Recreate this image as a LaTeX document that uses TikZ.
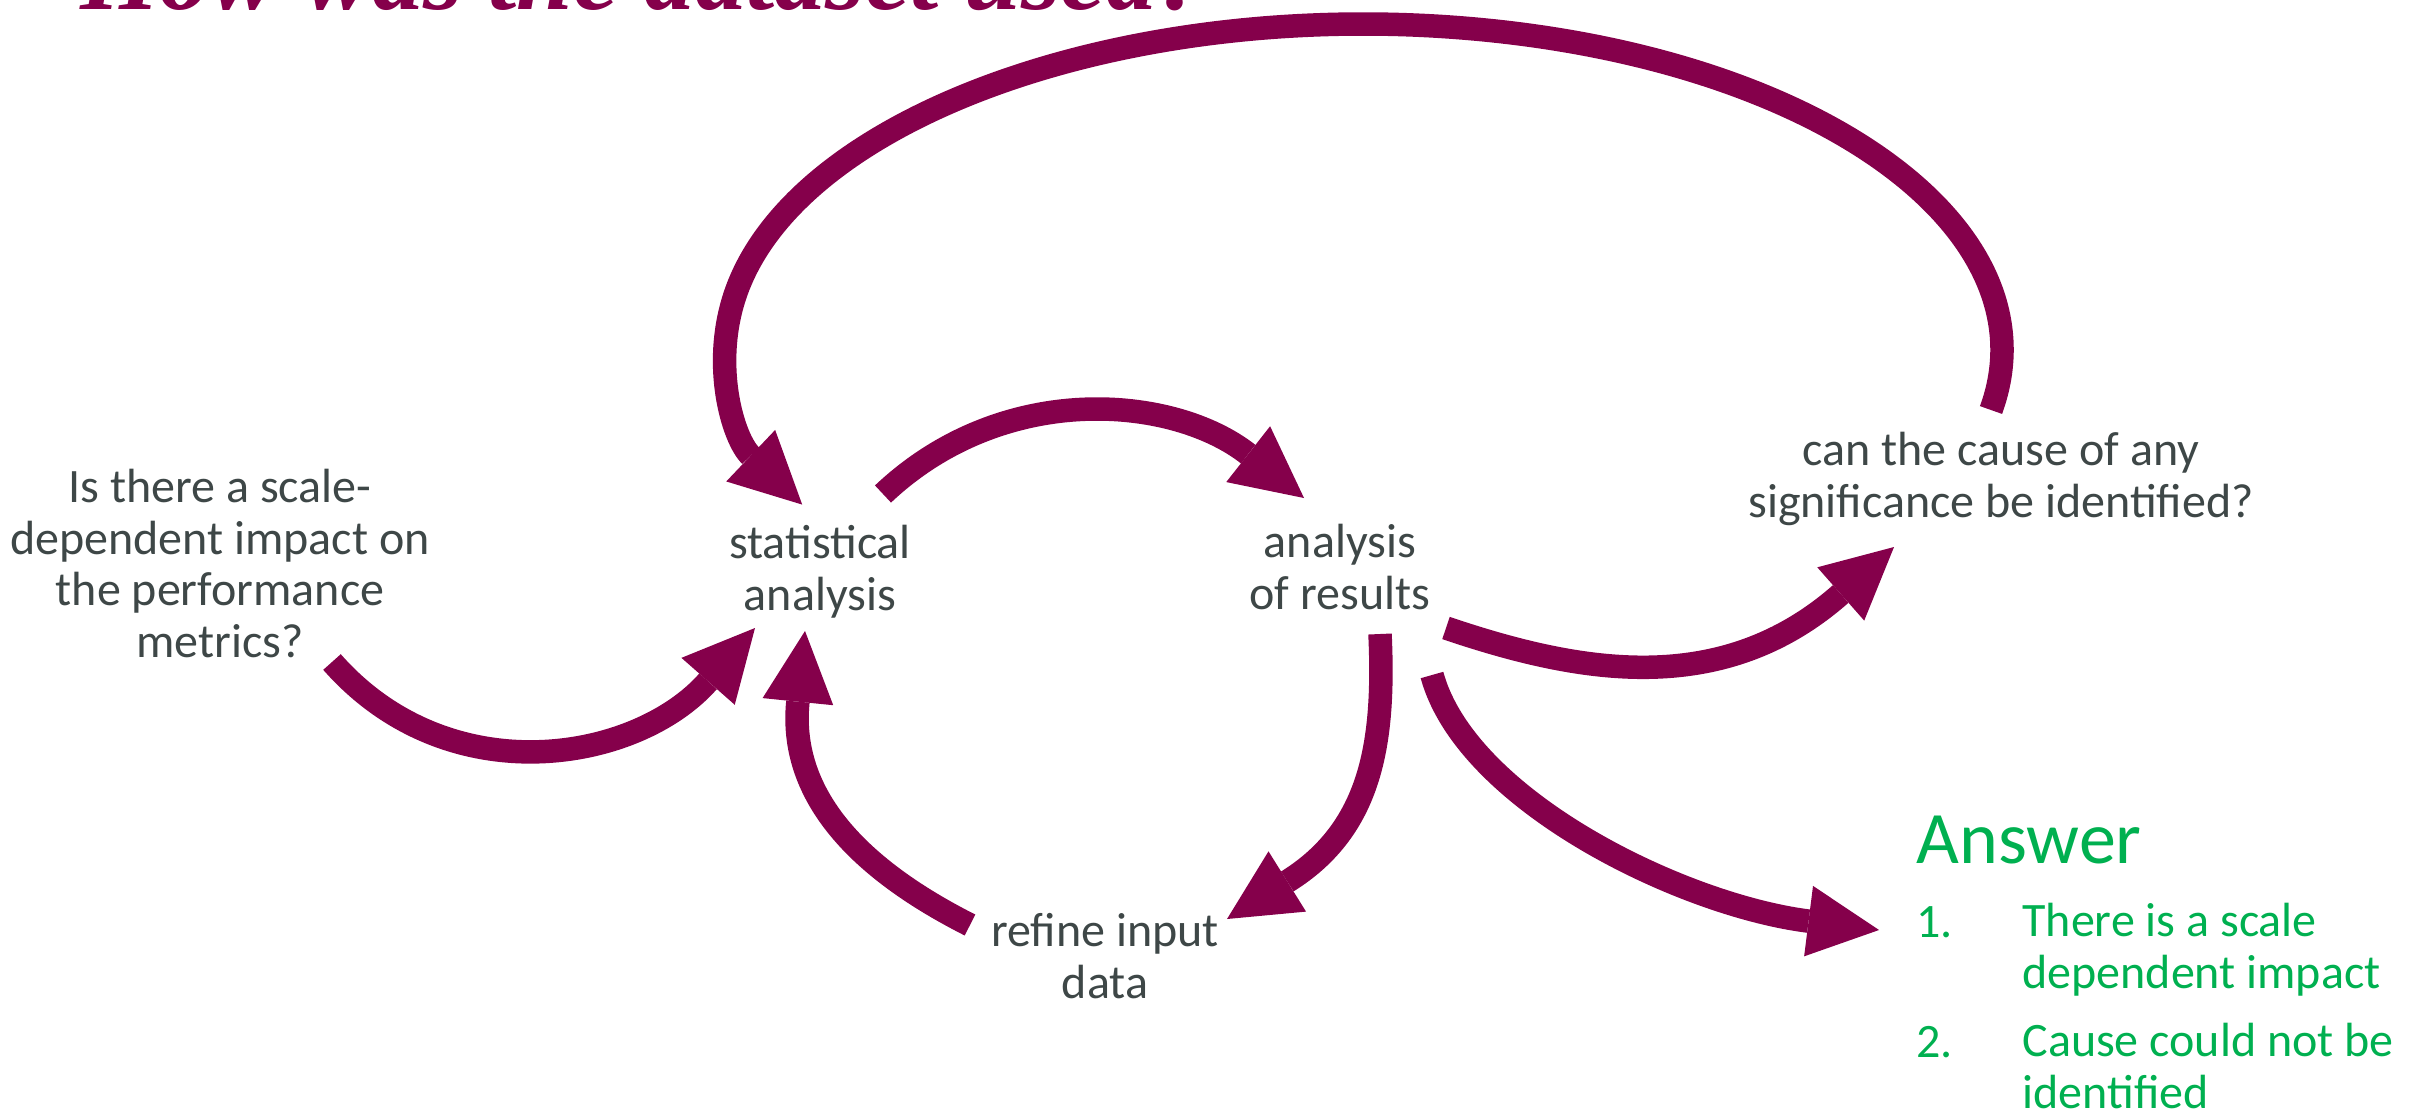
\documentclass[tikz,border=0pt]{standalone}
\usepackage{fontspec}
\setmainfont{Carlito}
\newfontfamily\titlefont{Liberation Serif}
\usetikzlibrary{arrows.meta}
\definecolor{arrowpurple}{HTML}{85004B}
\definecolor{labelgray}{HTML}{3E4747}
\definecolor{answergreen}{HTML}{00B050}
\begin{document}
\begin{tikzpicture}[x=0.5pt,y=-0.5pt,
  conn/.style={draw=arrowpurple, line width=11.75pt,
    -{Triangle[length=35.5pt,width=35.5pt,line width=0pt]}},
  qtext/.style={text=labelgray, font=\fontsize{24}{25.75}\selectfont,
    align=center, anchor=base, inner sep=0pt},
  anstext/.style={text=answergreen, font=\fontsize{24}{25.75}\selectfont,
    align=left, anchor=base west, inner sep=0pt},
  anshead/.style={text=answergreen, font=\fontsize{37}{40}\selectfont,
    anchor=base west, inner sep=0pt}
]
\useasboundingbox (0,0) rectangle (2425,1115);

% title (mostly above the visible area)
\node[font=\titlefont\bfseries\itshape\fontsize{51}{55}\selectfont, text=arrowpurple,
      anchor=base west, inner sep=0pt] (title) at (80,9) {How was the dataset used?};

% text nodes (anchored at the baseline of their last line)
\node[qtext] (q1) at (220,657) {Is there a scale-\\dependent impact on\\the performance\\metrics?};
\node[qtext] (stat) at (820,610) {statistical\\analysis};
\node[qtext] (aor) at (1340,609) {analysis\\of results};
\node[qtext] (cause) at (2001,517) {can the cause of any\\significance be identified?};
\node[qtext] (refine) at (1105,998) {refine input\\data};

\node[anshead] (ans) at (1916,863) {Answer};
\node[anstext] (n1) at (1916,937) {1.};
\node[anstext] (t1) at (2022,988) {There is a scale\\dependent impact};
\node[anstext] (n2) at (1916,1057) {2.};
\node[anstext] (t2) at (2022,1108) {Cause could not be\\identified};

% connector end points
\coordinate (aS) at (332,662);  \coordinate (aT) at (755,628);
\coordinate (bS) at (883,494);  \coordinate (bT) at (1304,498);
\coordinate (cS) at (970,925);  \coordinate (cT) at (805,631);
\coordinate (dS) at (1380,634); \coordinate (dT) at (1227,919);
\coordinate (eS) at (1446,628); \coordinate (eT) at (1894,547);
\coordinate (fS) at (1432,675); \coordinate (fT) at (1879,930);
\coordinate (gS) at (1991,410);

% connectors
\draw[conn] (aS) .. controls (449.5,795.5) and (637.5,761.5) .. (aT);
\draw[conn] (bS) .. controls (1003.5,380) and (1173.5,395.5) .. (bT);
\draw[conn] (cS) .. controls (836.5,857.5) and (790,780) .. (cT);
\draw[conn] (dS) .. controls (1385,743) and (1371.5,829) .. (dT);
\draw[conn] (eS) .. controls (1579,673) and (1721.5,699) .. (eT);
\draw[conn] (fS) .. controls (1466,800) and (1681,905) .. (fT);
\draw[conn] (gS) arc[start angle=10.6, end angle=-208.3, x radius=638, y radius=326];
\end{tikzpicture}
\end{document}
